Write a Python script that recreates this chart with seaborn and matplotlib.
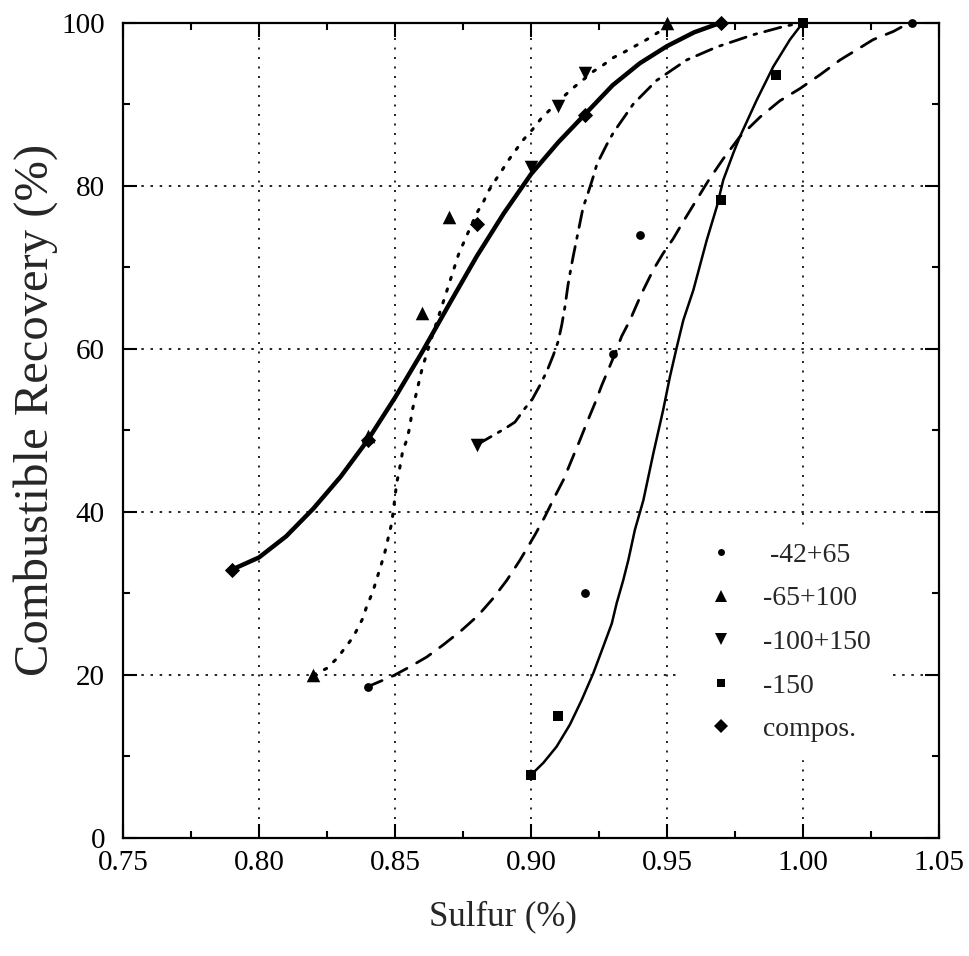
import matplotlib
matplotlib.use("Agg")
import matplotlib.pyplot as plt
import seaborn as sns
from matplotlib.lines import Line2D
from matplotlib.ticker import MultipleLocator, FormatStrFormatter

# ---------------- measured points (markers) ----------------
labels = [" -42+65", "-65+100", "-100+150", "-150", "compos."]

p4265_x = [0.84, 0.92, 0.93, 0.94, 1.04]
p4265_y = [18.5, 30.1, 59.4, 74.0, 100.0]

p65100_x = [0.82, 0.84, 0.86, 0.87, 0.95]
p65100_y = [20.0, 49.3, 64.4, 76.2, 100.0]

p100150_x = [0.88, 0.90, 0.91, 0.92]
p100150_y = [48.2, 82.3, 89.8, 93.8]

p150_x = [0.90, 0.91, 0.97, 0.99, 1.00]
p150_y = [7.7, 15.0, 78.2, 93.6, 100.0]

pcomp_x = [0.79, 0.84, 0.88, 0.92, 0.97]
pcomp_y = [32.9, 48.8, 75.3, 88.7, 100.0]

# ---------------- fitted curves ----------------
c4265_x = [0.8396, 0.8445, 0.8494, 0.8555, 0.8617, 0.8678, 0.8746, 0.8806, 0.8861,
           0.8911, 0.8960, 0.9015, 0.9051, 0.9088, 0.9119, 0.9150, 0.9180, 0.9205,
           0.9235, 0.9260, 0.9284, 0.9309, 0.9333, 0.9364, 0.9394, 0.9413, 0.9450,
           0.9486, 0.9523, 0.9560, 0.9606, 0.9652, 0.9707, 0.9768, 0.9842, 0.9915,
           0.9989, 1.0063, 1.0136, 1.0185, 1.0258, 1.0332, 1.0393]
c4265_y = [18.5, 19.2, 19.9, 21.0, 22.2, 23.7, 25.5, 27.3, 29.4,
           31.6, 34.1, 37.2, 39.4, 41.9, 43.9, 46.4, 48.8, 50.9,
           53.3, 55.5, 57.4, 59.4, 61.5, 63.5, 65.8, 67.2, 69.7,
           71.7, 73.5, 75.6, 78.1, 80.6, 83.3, 86.0, 88.4, 90.4,
           91.9, 93.6, 95.4, 96.4, 97.9, 98.9, 100.0]

c65100_x = [0.8200, 0.8249, 0.8286, 0.8316, 0.8343, 0.8363, 0.8381, 0.8396, 0.8411,
            0.8424, 0.8436, 0.8449, 0.8461, 0.8469, 0.8479, 0.8488, 0.8497, 0.8506,
            0.8516, 0.8528, 0.8543, 0.8553, 0.8564, 0.8600, 0.8640, 0.8680, 0.8733,
            0.8751, 0.8800, 0.8825, 0.8843, 0.8868, 0.8892, 0.8917, 0.8945, 0.8974,
            0.9006, 0.9039, 0.9113, 0.9152, 0.9229, 0.9266, 0.9303, 0.9339, 0.9425,
            0.9468, 0.9500]
c65100_y = [20.0, 20.8, 22.0, 23.3, 24.5, 25.7, 26.9, 28.4, 29.6,
            30.8, 32.1, 33.5, 34.8, 35.9, 37.4, 38.6, 41.0, 43.5,
            45.1, 47.4, 48.8, 50.2, 52.5, 57.6, 61.9, 66.0, 71.5,
            72.9, 76.6, 78.0, 79.3, 80.6, 81.8, 83.1, 84.4, 85.7,
            86.9, 88.3, 90.7, 91.9, 94.0, 94.8, 95.7, 96.3, 97.9,
            98.8, 99.8]

c100150_x = [0.8800, 0.8904, 0.8941, 0.8978, 0.9003, 0.9031, 0.9058, 0.9082, 0.9100,
             0.9113, 0.9125, 0.9136, 0.9147, 0.9155, 0.9192, 0.9205, 0.9229, 0.9242,
             0.9278, 0.9303, 0.9376, 0.9462, 0.9572, 0.9683, 0.9817, 0.9928, 1.0000]
c100150_y = [48.2, 50.2, 51.0, 52.7, 53.7, 55.4, 57.2, 59.2, 60.9,
             62.9, 65.2, 67.8, 69.9, 71.3, 77.4, 78.6, 81.1, 82.6,
             85.0, 86.5, 90.0, 92.9, 95.4, 97.0, 98.5, 99.5, 100.0]

c150_x = [0.8999, 0.9045, 0.9094, 0.9143, 0.9186, 0.9229, 0.9266, 0.9297, 0.9315,
          0.9339, 0.9358, 0.9382, 0.9413, 0.9450, 0.9486, 0.9511, 0.9536, 0.9560,
          0.9597, 0.9646, 0.9683, 0.9707, 0.9744, 0.9768, 0.9830, 0.9891, 0.9952, 1.0000]
c150_y = [7.7, 9.2, 11.2, 13.9, 16.9, 20.2, 23.5, 26.3, 28.8,
          31.6, 34.1, 37.8, 41.4, 47.2, 52.5, 56.6, 60.2, 63.5,
          67.2, 73.3, 77.4, 80.7, 84.0, 86.0, 90.5, 94.6, 97.9, 100.0]

ccomp_x = [0.790, 0.800, 0.810, 0.820, 0.830, 0.840, 0.850, 0.860, 0.870, 0.880,
           0.890, 0.900, 0.910, 0.920, 0.930, 0.940, 0.950, 0.960, 0.970]
ccomp_y = [32.9, 34.4, 37.0, 40.4, 44.3, 48.8, 54.0, 59.6, 65.5, 71.3,
           76.6, 81.4, 85.3, 88.8, 92.3, 95.0, 97.1, 98.8, 100.0]

xticks = [0.75, 0.80, 0.85, 0.90, 0.95, 1.00, 1.05]
yticks = [0, 20, 40, 60, 80, 100]

# ---------------- figure ----------------
sns.set_style("ticks")
plt.rcParams["font.family"] = ["Liberation Serif", "DejaVu Serif"]

W, H = 969, 956
fig = plt.figure(figsize=(W / 100, H / 100), dpi=100)
ax = fig.add_axes([123 / W, 1 - 838 / H, (939 - 123) / W, (838 - 22.5) / H])

ax.set_xlim(0.75, 1.05)
ax.set_ylim(0, 100)

# grid
ax.set_axisbelow(True)
for xv in xticks[1:-1]:
    ax.axvline(xv, color="black", lw=1.2, linestyle=(0, (1.2, 4.5)), zorder=0)
for yv in yticks[1:-1]:
    ax.axhline(yv, color="black", lw=1.2, linestyle=(0, (1.5, 4.0)), zorder=0)

# curves
curve_specs = [
    (c4265_x, c4265_y, 2.0, (0, (6, 4))),
    (c65100_x, c65100_y, 2.2, (0, (0.8, 3.2))),
    (c100150_x, c100150_y, 2.0, (0, (6, 3, 1, 3))),
    (c150_x, c150_y, 1.8, "-"),
    (ccomp_x, ccomp_y, 3.2, "-"),
]
for cx, cy, lw, ls in curve_specs:
    n_before = len(ax.lines)
    sns.lineplot(x=cx, y=cy, sort=False, estimator=None, color="black", lw=lw, ax=ax)
    for ln in ax.lines[n_before:]:
        ln.set_linestyle(ls)
        ln.set_solid_capstyle("round")
        ln.set_dash_capstyle("round")
        ln.set_clip_on(False)

# markers
marker_specs = [
    (p4265_x, p4265_y, "o", 40),
    (p65100_x, p65100_y, "^", 95),
    (p100150_x, p100150_y, "v", 95),
    (p150_x, p150_y, "s", 45),
    (pcomp_x, pcomp_y, "D", 60),
]
for mx, my, mk, sz in marker_specs:
    sns.scatterplot(x=mx, y=my, marker=mk, s=sz, color="black", edgecolor="black",
                    linewidth=0, ax=ax, zorder=6, clip_on=False, legend=False)

# ticks & spines
ax.set_xticks(xticks)
ax.set_yticks(yticks)
ax.xaxis.set_minor_locator(MultipleLocator(0.025))
ax.yaxis.set_minor_locator(MultipleLocator(10))
ax.xaxis.set_major_formatter(FormatStrFormatter("%.2f"))
ax.yaxis.set_major_formatter(FormatStrFormatter("%d"))
ax.tick_params(which="both", direction="in", top=True, right=True, width=1.5,
               colors="black", labelsize=21)
ax.tick_params(which="major", length=10)
ax.tick_params(which="minor", length=5)
ax.tick_params(axis="x", which="major", pad=9)
ax.tick_params(axis="y", which="major", pad=13)
for sp in ax.spines.values():
    sp.set_linewidth(1.6)
    sp.set_color("black")
    sp.set_zorder(5)

fig.text(503 / W, 1 - 917 / H, "Sulfur (%)", ha="center", va="center", fontsize=25)
fig.text(36 / W, 1 - 410 / H, "Combustible Recovery (%)", ha="center", va="center",
         rotation=90, fontsize=35)

# legend
leg_markers = ["o", "^", "v", "s", "D"]
leg_sizes = [5, 8, 8, 5.5, 7]
handles = [Line2D([], [], linestyle="none", marker=m, markersize=s, color="black",
                  markeredgewidth=0) for m, s in zip(leg_markers, leg_sizes)]
leg = ax.legend(handles, labels, loc="upper left",
                bbox_to_anchor=(677 / W, 1 - 525.5 / H), bbox_transform=fig.transFigure,
                frameon=True, fancybox=False, framealpha=1, facecolor="white",
                edgecolor="white", fontsize=20, handlelength=2.0, handletextpad=0.49,
                borderpad=0.6, labelspacing=0.655, borderaxespad=0)
leg.set_zorder(4)

fig.savefig("out.png", dpi=100)
